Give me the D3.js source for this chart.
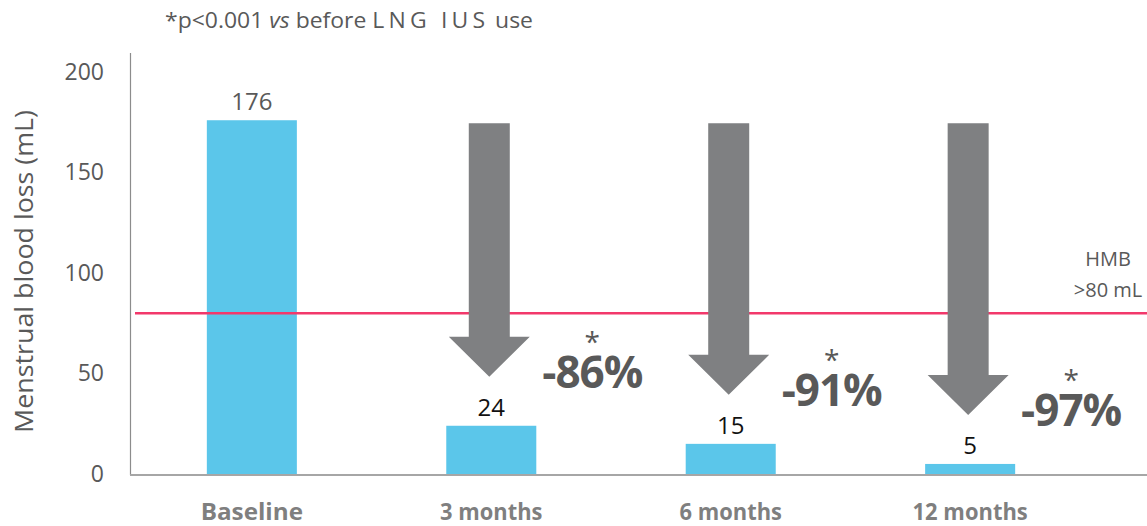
<!DOCTYPE html>
<html>
<head>
<meta charset="utf-8">
<title>Menstrual blood loss</title>
<style>
  body { margin: 0; background: #fff; }
  text { font-family: "Open Sans", sans-serif; }
</style>
</head>
<body>
<div id="chart"></div>
<script src="https://cdn.jsdelivr.net/npm/d3@7"></script>
<script>
// data
const categories = ['Baseline', '3 months', '6 months', '12 months'];
const values = [176, 24, 15, 5];
const reductions = ['', '-86%', '-91%', '-97%'];
const yTicks = [0, 50, 100, 150, 200];
const threshold = 80;

const width = 1147, height = 526;
const grey = '#595959';

const svg = d3.select('#chart').append('svg')
  .attr('width', width)
  .attr('height', height);

const x = d3.scaleBand()
  .domain(categories)
  .range([135, 1087])
  .paddingInner(0.624)
  .paddingOuter(0.3);

const y = d3.scaleLinear()
  .domain([0, 200])
  .range([474, 72]);

// y axis: labels only, line drawn separately
const yAxis = svg.append('g')
  .attr('transform', 'translate(104,0)')
  .call(d3.axisLeft(y).tickValues(yTicks).tickSize(0).tickPadding(0));
yAxis.select('.domain').remove();
yAxis.selectAll('text')
  .attr('fill', grey)
  .style('font-size', '23px')
  .style('font-family', '"Open Sans", sans-serif');

svg.append('line')
  .attr('x1', 130.5).attr('x2', 130.5)
  .attr('y1', 53).attr('y2', y(0) + 1)
  .attr('stroke', '#8c8c8c').attr('stroke-width', 1.2);

svg.append('text')
  .attr('transform', `translate(33,${(110 + 433) / 2}) rotate(-90)`)
  .attr('text-anchor', 'middle')
  .attr('fill', grey)
  .attr('textLength', 323)
  .attr('lengthAdjust', 'spacingAndGlyphs')
  .style('font-size', '26px')
  .text('Menstrual blood loss (mL)');

// bars
svg.selectAll('rect.bar')
  .data(values)
  .join('rect')
  .attr('class', 'bar')
  .attr('x', (d, i) => x(categories[i]))
  .attr('y', d => y(d))
  .attr('width', x.bandwidth())
  .attr('height', d => y(0) - y(d))
  .attr('fill', '#5bc6ea');

// x axis line
svg.append('line')
  .attr('x1', 130).attr('x2', width)
  .attr('y1', y(0) + 1).attr('y2', y(0) + 1)
  .attr('stroke', '#a6a6a6').attr('stroke-width', 2);

// category labels
svg.selectAll('text.cat')
  .data(categories)
  .join('text')
  .attr('class', 'cat')
  .attr('x', d => x(d) + x.bandwidth() / 2)
  .attr('y', 520)
  .attr('text-anchor', 'middle')
  .attr('fill', '#7f7f7f')
  .attr('textLength', d => d.length * 12.8)
  .attr('lengthAdjust', 'spacingAndGlyphs')
  .style('font-size', '23px')
  .style('font-weight', 'bold')
  .text(d => d);

// threshold line
svg.append('line')
  .attr('x1', 135).attr('x2', width)
  .attr('y1', y(threshold)).attr('y2', y(threshold))
  .attr('stroke', '#f2386b').attr('stroke-width', 2.5);

svg.append('text')
  .attr('x', 1108).attr('y', 266)
  .attr('text-anchor', 'middle')
  .attr('fill', grey)
  .style('font-size', '20px')
  .text('HMB');
svg.append('text')
  .attr('x', 1108).attr('y', 297)
  .attr('text-anchor', 'middle')
  .attr('fill', grey)
  .style('font-size', '20px')
  .text('>80 mL');

// arrows from baseline level down to each follow-up value
const shaftW = 41, headW = 81, headL = 40;
const arrowData = values.slice(1).map((v, i) => ({ cat: categories[i + 1], v, label: reductions[i + 1] }));
svg.selectAll('path.arrow')
  .data(arrowData)
  .join('path')
  .attr('class', 'arrow')
  .attr('fill', '#7f8082')
  .attr('d', d => {
    const cx = x(d.cat) + x.bandwidth() / 2 - 2;
    const top = y(values[0]) + 3;
    const tip = y(d.v) - 49;
    const hb = tip - headL;
    return `M${cx - shaftW / 2},${top}H${cx + shaftW / 2}V${hb}H${cx + headW / 2}` +
      `L${cx},${tip}L${cx - headW / 2},${hb}H${cx - shaftW / 2}Z`;
  });

// reduction labels: asterisk line + percentage line in one text
const pct = svg.selectAll('text.pct')
  .data(arrowData)
  .join('text')
  .attr('class', 'pct')
  .attr('text-anchor', 'middle')
  .attr('fill', grey);
pct.append('tspan')
  .attr('x', d => x(d.cat) + x.bandwidth() / 2 + 101)
  .attr('y', d => y(d.v) - 74)
  .style('font-size', '28px')
  .text('*');
pct.append('tspan')
  .attr('x', d => x(d.cat) + x.bandwidth() / 2 + 101)
  .attr('y', d => y(d.v) - 38)
  .style('font-size', '44px')
  .style('font-weight', 'bold')
  .style('letter-spacing', '-1px')
  .text(d => d.label);

// value labels
svg.selectAll('text.val')
  .data(values)
  .join('text')
  .attr('class', 'val')
  .attr('x', (d, i) => x(categories[i]) + x.bandwidth() / 2)
  .attr('y', d => y(d) - 10)
  .attr('text-anchor', 'middle')
  .attr('fill', (d, i) => i === 0 ? grey : '#111')
  .style('font-size', '24px')
  .text(d => d);

// footnote
const note = svg.append('text')
  .attr('x', 165).attr('y', 28)
  .attr('fill', grey)
  .attr('textLength', 368)
  .attr('lengthAdjust', 'spacingAndGlyphs')
  .style('font-size', '22px');
note.append('tspan').text('*p<0.001 ');
note.append('tspan').style('font-style', 'italic').text('vs');
note.append('tspan').text(' before ');
note.append('tspan').style('letter-spacing', '4px').text('LNG IUS');
note.append('tspan').text(' use');
</script>
</body>
</html>
